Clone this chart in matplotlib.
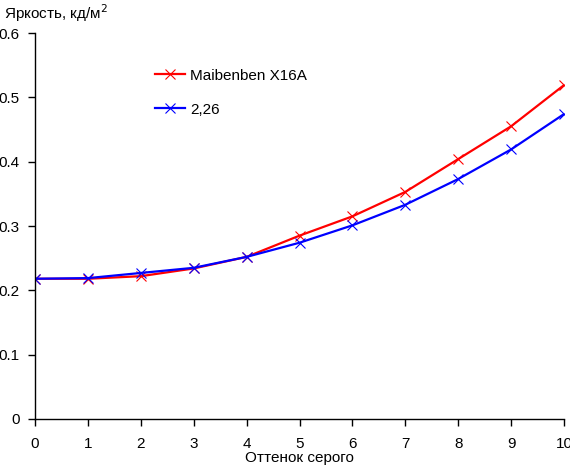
import matplotlib
matplotlib.use('Agg')
import matplotlib.pyplot as plt

plt.rcParams['font.family'] = ['Liberation Sans', 'DejaVu Sans']

# оттенки серого и измеренная яркость
gray_levels = [0, 1, 2, 3, 4, 5, 6, 7, 8, 9, 10]
maibenben = [0.218, 0.218, 0.222, 0.234, 0.252, 0.285, 0.315, 0.353, 0.404, 0.455, 0.519]
gamma_226 = [0.218, 0.219, 0.227, 0.235, 0.252, 0.274, 0.301, 0.333, 0.373, 0.419, 0.474]

fig = plt.figure(figsize=(5.7, 4.68), dpi=100)
ax = fig.add_axes([35 / 570, 49 / 468, 529 / 570, 386 / 468])

ax.plot(gray_levels, maibenben, color='#ff0000', lw=1.6, marker='x',
        ms=7, mew=0.8, label='Maibenben X16A')
ax.plot(gray_levels, gamma_226, color='#0000ff', lw=1.6, marker='x',
        ms=7, mew=0.8, label='2,26')

ax.set_xlim(0, 10)
ax.set_ylim(0, 0.6)
ax.set_xticks(range(0, 11))
ax.set_yticks([0, 0.1, 0.2, 0.3, 0.4, 0.5, 0.6])
ax.set_yticklabels(['0', '0.1', '0.2', '0.3', '0.4', '0.5', '0.6'])
ax.spines['top'].set_visible(False)
ax.spines['right'].set_visible(False)
ax.tick_params(direction='out', length=5, width=1, labelsize=11)
ax.tick_params(axis='y', pad=6)
ax.tick_params(axis='x', pad=8)
for s in ('left', 'bottom'):
    ax.spines[s].set_linewidth(1)

ax.set_xlabel('Оттенок серого', fontsize=11, labelpad=0)
fig.text(4 / 570, 1 - 13 / 468, 'Яркость, кд/м$^2$', fontsize=11, va='center')

ax.legend(loc='upper left', bbox_to_anchor=(141 / 570, 1 - 55 / 468),
          bbox_transform=fig.transFigure, frameon=False, fontsize=11,
          handlelength=2.0, handletextpad=0.3, labelspacing=1.3)

fig.savefig('out.png', dpi=100)
